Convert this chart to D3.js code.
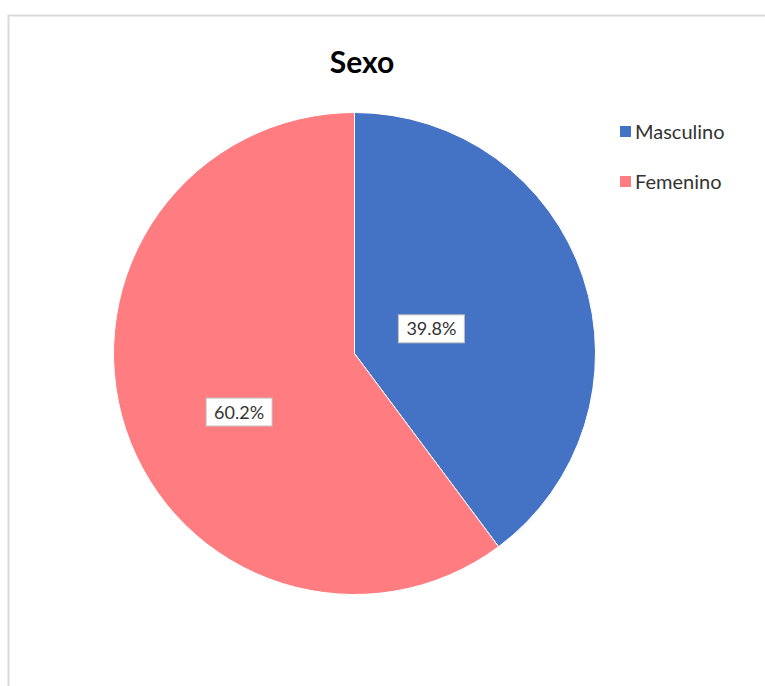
<!DOCTYPE html>
<html>
<head>
<meta charset="utf-8">
<script src="https://cdn.jsdelivr.net/npm/d3@7"></script>
<style>
  html, body { margin: 0; padding: 0; background: #fff; }
  svg { display: block; }
</style>
</head>
<body>
<svg id="chart" width="765" height="686"></svg>
<script>
const title = "Sexo";
const categories = ["Masculino", "Femenino"];
const values = [39.8, 60.2];
const labels = ["39.8%", "60.2%"];
const colors = ["#4472C4", "#FF7C80"];

const svg = d3.select("#chart");
const font = "Lato, 'Open Sans', sans-serif";

// chart area border
svg.append("rect")
  .attr("x", 8.5).attr("y", 15.5)
  .attr("width", 800).attr("height", 700)
  .attr("fill", "#fff").attr("stroke", "#d9d9d9").attr("stroke-width", 2);

// title
svg.append("text")
  .attr("x", 362).attr("y", 73)
  .attr("text-anchor", "middle")
  .attr("font-family", font).attr("font-weight", "bold")
  .attr("font-size", 30).attr("fill", "#000")
  .text(title);

const cx = 354.5, cy = 353.5, r = 241;
const g = svg.append("g").attr("transform", `translate(${cx},${cy})`);

const pie = d3.pie().sort(null).value(d => d)(values);
const arc = d3.arc().innerRadius(0).outerRadius(r);

g.selectAll("path.slice").data(pie).join("path")
  .attr("class", "slice")
  .attr("d", arc)
  .attr("fill", (d, i) => colors[i])
  .attr("stroke", "#fff").attr("stroke-width", 1);

// data labels
const labelRadius = [0.335 * r, 0.537 * r];
const labelAngleShift = [0.01, -0.149];
const labelG = g.selectAll("g.lbl").data(pie).join("g").attr("class", "lbl")
  .attr("transform", (d, i) => {
    const a = (d.startAngle + d.endAngle) / 2 + labelAngleShift[i];
    const rr = labelRadius[i];
    return `translate(${Math.sin(a) * rr},${-Math.cos(a) * rr})`;
  });
labelG.each(function(d, i) {
  const sel = d3.select(this);
  const t = sel.append("text")
    .attr("text-anchor", "middle").attr("dy", "0.36em")
    .attr("font-family", font).attr("font-size", 18)
    .attr("fill", "#333").text(labels[i]);
  const bb = t.node().getBBox();
  sel.insert("rect", "text")
    .attr("x", -33).attr("y", -14)
    .attr("width", 66).attr("height", 28)
    .attr("fill", "#fff").attr("stroke", "#bfbfbf").attr("stroke-width", 1);
});

// legend
const legend = svg.append("g").attr("transform", "translate(620,122)");
const items = legend.selectAll("g").data(categories).join("g")
  .attr("transform", (d, i) => `translate(0,${i * 50})`);
items.append("rect").attr("x", 0).attr("y", 4).attr("width", 11).attr("height", 11)
  .attr("fill", (d, i) => colors[i]);
items.append("text").attr("x", 15).attr("y", 16.5)
  .attr("font-family", font).attr("font-size", 20).attr("fill", "#333")
  .text(d => d);
</script>
</body>
</html>
